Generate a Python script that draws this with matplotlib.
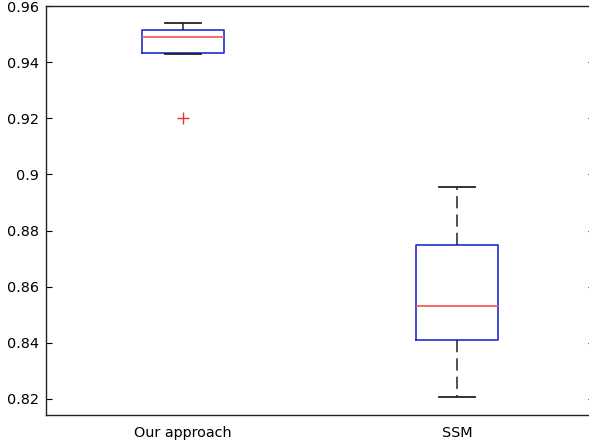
import matplotlib
matplotlib.use("Agg")
import matplotlib.pyplot as plt

# Data
categories = ["Our approach", "SSM"]
medians = [0.9491, 0.8532]
q1 = [0.9432, 0.8410]
q3 = [0.9517, 0.8747]
whislo = [0.9428, 0.8207]
whishi = [0.9539, 0.8956]
fliers = [[0.9200], []]
yticks = [0.82, 0.84, 0.86, 0.88, 0.90, 0.92, 0.94, 0.96]
ytick_labels = ["0.82", "0.84", "0.86", "0.88", "0.9", "0.92", "0.94", "0.96"]

plt.rcParams['font.family'] = ['DejaVu Sans']

fig = plt.figure(figsize=(5.89, 4.45), dpi=100)
W, H = 589, 445
left, right, top, bottom = 46, 594, 5.7, 415.3
ax = fig.add_axes([left / W, (H - bottom) / H, (right - left) / W, (bottom - top) / H])

stats = []
for i, lab in enumerate(categories):
    stats.append(dict(label=lab, med=medians[i], q1=q1[i], q3=q3[i],
                      whislo=whislo[i], whishi=whishi[i], fliers=fliers[i]))

ax.bxp(stats, positions=[1, 2], widths=0.3, showfliers=True,
       boxprops=dict(color='#1f2fd0', linewidth=1.2),
       medianprops=dict(color='#f06060', linewidth=1.3),
       whiskerprops=dict(color='#222222', linewidth=1.1, linestyle=(0, (8, 4))),
       capprops=dict(color='#222222', linewidth=1.3),
       capwidths=0.135,
       flierprops=dict(marker='+', markeredgecolor='#ee3333', markersize=9,
                       markeredgewidth=1.0, linestyle='none'))

ax.set_xlim(0.5, 2.5)
ax.set_ylim(0.8141, 0.9602)
ax.set_yticks(yticks)
ax.set_yticklabels(ytick_labels)
ax.set_xticks([1, 2])
ax.set_xticklabels(categories)

ax.tick_params(axis='y', direction='in', length=4, width=0.8, pad=5,
               labelsize=10.4, right=True, colors='black')
ax.tick_params(axis='x', length=0, pad=8, labelsize=10.4)
for s in ax.spines.values():
    s.set_linewidth(1.0)
    s.set_color('#222222')

fig.savefig("out.png", dpi=100)
